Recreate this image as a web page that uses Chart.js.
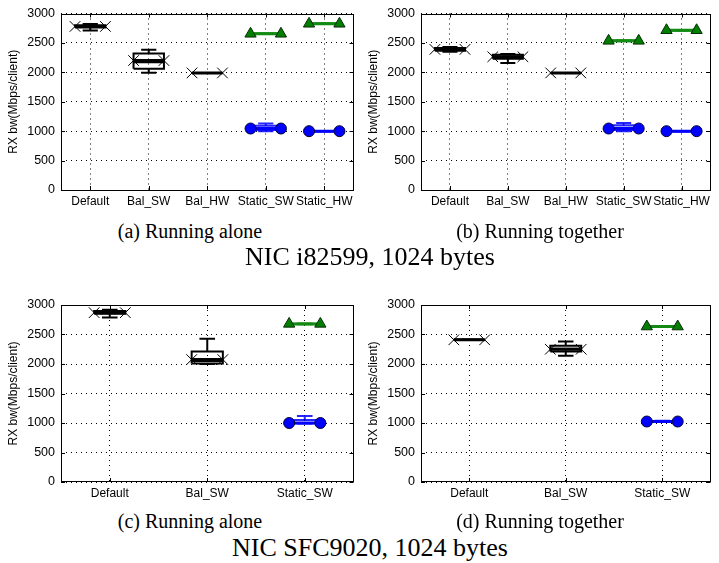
<!DOCTYPE html>
<html lang="en">
<head>
<meta charset="UTF-8">
<title>RX bandwidth per client</title>
<script src="https://cdn.jsdelivr.net/npm/chart.js@4.4.0/dist/chart.umd.min.js"></script>
<style>
    * { margin: 0; padding: 0; box-sizing: border-box; }
    body { width: 719px; height: 563px; background: #fff; position: relative; overflow: hidden; }
    .panel { position: absolute; }
    .caption {
        position: absolute;
        font-family: 'Liberation Serif', 'Times New Roman', serif;
        color: #000;
        white-space: nowrap;
        transform: translate(-50%, -50%);
    }
    .sub { font-size: 20px; }
    .main { font-size: 26px; }
</style>
</head>
<body>
<div class="panel" style="left:0;top:0"><canvas id="chartA" width="362" height="210"></canvas></div>
<div class="panel" style="left:360px;top:0"><canvas id="chartB" width="359" height="210"></canvas></div>
<div class="panel" style="left:0;top:290px"><canvas id="chartC" width="362" height="212"></canvas></div>
<div class="panel" style="left:360px;top:290px"><canvas id="chartD" width="359" height="212"></canvas></div>

<div class="caption sub" style="left:190px;top:231px">(a) Running alone</div>
<div class="caption sub" style="left:540px;top:231px">(b) Running together</div>
<div class="caption main" style="left:370px;top:257px">NIC i82599, 1024 bytes</div>
<div class="caption sub" style="left:190px;top:521px">(c) Running alone</div>
<div class="caption sub" style="left:540px;top:521px">(d) Running together</div>
<div class="caption main" style="left:370px;top:548px">NIC SFC9020, 1024 bytes</div>

<script>
// categories and y ticks
const catsTop = ['Default', 'Bal_SW', 'Bal_HW', 'Static_SW', 'Static_HW'];
const catsBottom = ['Default', 'Bal_SW', 'Static_SW'];
const yTicks = [0, 500, 1000, 1500, 2000, 2500, 3000];

// box stats per category: [min, q1, median, q3, max]; means drawn as marker lines
// (a) i82599, running alone
const aBlackBox = [[2710, 2760, 2780, 2800, 2820], [1995, 2060, 2170, 2320, 2385], [1990, 1990, 1990, 1990, 1990], null, null];
const aBlackMean = [2780, 2200, 1990, null, null];
const aGreenBox = [null, null, null, [2650, 2652, 2655, 2658, 2660], [2820, 2822, 2825, 2828, 2830]];
const aGreenMean = [null, null, null, 2655, 2825];
const aBlueBox = [null, null, null, [1000, 1020, 1050, 1090, 1130], [1000, 1000, 1000, 1000, 1000]];
const aBlueMean = [null, null, null, 1045, 1000];

// (b) i82599, running together
const bBlackBox = [[2350, 2365, 2390, 2415, 2430], [2160, 2230, 2260, 2300, 2310], [1990, 1990, 1990, 1990, 1990], null, null];
const bBlackMean = [2390, 2265, 1990, null, null];
const bGreenBox = [null, null, null, [2530, 2532, 2535, 2538, 2540], [2710, 2712, 2715, 2718, 2720]];
const bGreenMean = [null, null, null, 2535, 2715];
const bBlueBox = [null, null, null, [1000, 1020, 1060, 1100, 1140], [1000, 1000, 1000, 1000, 1000]];
const bBlueMean = [null, null, null, 1045, 1000];

// (c) SFC9020, running alone
const cBlackBox = [[2790, 2850, 2870, 2900, 2920], [2000, 2010, 2050, 2210, 2430], null];
const cBlackMean = [2870, 2075, null];
const cGreenBox = [null, null, [2675, 2678, 2680, 2682, 2685]];
const cGreenMean = [null, null, 2680];
const cBlueBox = [null, null, [990, 995, 1000, 1050, 1120]];
const cBlueMean = [null, null, 1000];

// (d) SFC9020, running together
const dBlackBox = [[2410, 2410, 2410, 2410, 2410], [2140, 2210, 2260, 2310, 2380], null];
const dBlackMean = [2410, 2250, null];
const dGreenBox = [null, null, [2630, 2632, 2635, 2638, 2640]];
const dGreenMean = [null, null, 2635];
const dBlueBox = [null, null, [1015, 1020, 1025, 1035, 1040]];
const dBlueMean = [null, null, 1025];

const tickFont = { family: "'Liberation Sans', Arial, sans-serif", size: 12 };

const styles = {
    black: { line: '#000', box: '#000', point: 'crossRot', radius: 7.5, fill: '#000', edge: '#000' },
    green: { line: '#138a13', box: '#138a13', point: 'triangle', radius: 6.5, fill: '#007f00', edge: '#0a2a0a' },
    blue:  { line: '#0000ff', box: 'rgba(0,0,255,0.85)', point: 'circle', radius: 5.5, fill: '#0000ff', edge: '#000033' }
};

// turn box stats + means into line datasets drawn on the linear x scale
function seriesDatasets(boxes, means, st, half) {
    const box = [], med = [], whisk = [], mean = [];
    boxes.forEach((s, i) => {
        if (!s) return;
        const x = i + 1;
        const [lo, q1, md, q3, hi] = s;
        box.push({x: x - half, y: q1}, {x: x + half, y: q1}, {x: x + half, y: q3},
                 {x: x - half, y: q3}, {x: x - half, y: q1}, {x: x, y: null});
        med.push({x: x - half, y: md}, {x: x + half, y: md}, {x: x, y: null});
        whisk.push({x: x, y: q1}, {x: x, y: lo}, {x: x, y: null},
                   {x: x, y: q3}, {x: x, y: hi}, {x: x, y: null},
                   {x: x - half / 2, y: lo}, {x: x + half / 2, y: lo}, {x: x, y: null},
                   {x: x - half / 2, y: hi}, {x: x + half / 2, y: hi}, {x: x, y: null});
    });
    means.forEach((m, i) => {
        if (m == null) return;
        const x = i + 1;
        mean.push({x: x - half, y: m}, {x: x + half, y: m}, {x: x, y: null});
    });
    const plain = (data, w) => ({
        type: 'line', data, borderColor: st.box, borderWidth: w,
        pointRadius: 0, spanGaps: false, fill: false, tension: 0, order: 2
    });
    return [
        plain(box, 2), plain(med, 2), plain(whisk, 2),
        {
            type: 'line', data: mean, borderColor: st.line, borderWidth: 3,
            pointStyle: st.point, pointRadius: st.radius, pointBackgroundColor: st.fill,
            pointBorderColor: st.edge, pointBorderWidth: 1, spanGaps: false, tension: 0, order: 0
        }
    ];
}

// matplotlib style frame with inward ticks
const frameTicks = {
    id: 'frameTicks',
    afterDatasetsDraw(chart) {
        const {ctx, chartArea: a, scales: {x, y}} = chart;
        ctx.save();
        ctx.strokeStyle = '#000';
        ctx.lineWidth = 1;
        ctx.strokeRect(Math.round(a.left) + 0.5, Math.round(a.top) + 0.5,
                       Math.round(a.right - a.left) - 1, Math.round(a.bottom - a.top) - 1);
        ctx.beginPath();
        y.ticks.forEach(t => {
            const py = Math.round(y.getPixelForValue(t.value)) + 0.5;
            ctx.moveTo(a.left, py); ctx.lineTo(a.left + 4, py);
            ctx.moveTo(a.right, py); ctx.lineTo(a.right - 4, py);
        });
        x.ticks.forEach(t => {
            const px = Math.round(x.getPixelForValue(t.value)) + 0.5;
            ctx.moveTo(px, a.top); ctx.lineTo(px, a.top + 4);
            ctx.moveTo(px, a.bottom); ctx.lineTo(px, a.bottom - 4);
        });
        ctx.stroke();
        ctx.restore();
    }
};

function makePanel(id, cats, series, half, topPad, rightPad) {
    const datasets = [];
    series.forEach(([boxes, means, st]) => datasets.push(...seriesDatasets(boxes, means, st, half)));
    new Chart(document.getElementById(id), {
        data: { datasets },
        plugins: [frameTicks],
        options: {
            responsive: false,
            animation: false,
            layout: { padding: { left: 0, right: rightPad, top: topPad, bottom: 0 } },
            plugins: { legend: { display: false }, tooltip: { enabled: false } },
            scales: {
                x: {
                    type: 'linear', min: 0.5, max: cats.length + 0.5,
                    afterBuildTicks: s => { s.ticks = cats.map((c, i) => ({ value: i + 1 })); },
                    afterFit: s => { s.height = 20; },
                    ticks: { callback: (v, i) => cats[i], font: tickFont, color: '#000', padding: 4, maxRotation: 0, autoSkip: false },
                    grid: { color: '#000', lineWidth: 1, drawTicks: false },
                    border: { display: false, dash: [1, 4] }
                },
                y: {
                    min: 0, max: 3000,
                    afterBuildTicks: s => { s.ticks = yTicks.map(v => ({ value: v })); },
                    afterFit: s => { s.width = 61; },
                    ticks: { callback: v => String(v), font: { ...tickFont, size: 12.5 }, color: '#000', padding: 6 },
                    title: { display: true, text: 'RX bw(Mbps/client)', font: tickFont, color: '#000', padding: { top: 6, bottom: 0 } },
                    grid: { color: '#000', lineWidth: 1, drawTicks: false },
                    border: { display: false, dash: [1, 4] }
                }
            }
        }
    });
}

makePanel('chartA', catsTop, [[aBlackBox, aBlackMean, styles.black], [aGreenBox, aGreenMean, styles.green], [aBlueBox, aBlueMean, styles.blue]], 0.26, 13, 2);
makePanel('chartB', catsTop, [[bBlackBox, bBlackMean, styles.black], [bGreenBox, bGreenMean, styles.green], [bBlueBox, bBlueMean, styles.blue]], 0.26, 13, 1);
makePanel('chartC', catsBottom, [[cBlackBox, cBlackMean, styles.black], [cGreenBox, cGreenMean, styles.green], [cBlueBox, cBlueMean, styles.blue]], 0.16, 15, 2);
makePanel('chartD', catsBottom, [[dBlackBox, dBlackMean, styles.black], [dGreenBox, dGreenMean, styles.green], [dBlueBox, dBlueMean, styles.blue]], 0.16, 15, 1);
</script>
</body>
</html>
